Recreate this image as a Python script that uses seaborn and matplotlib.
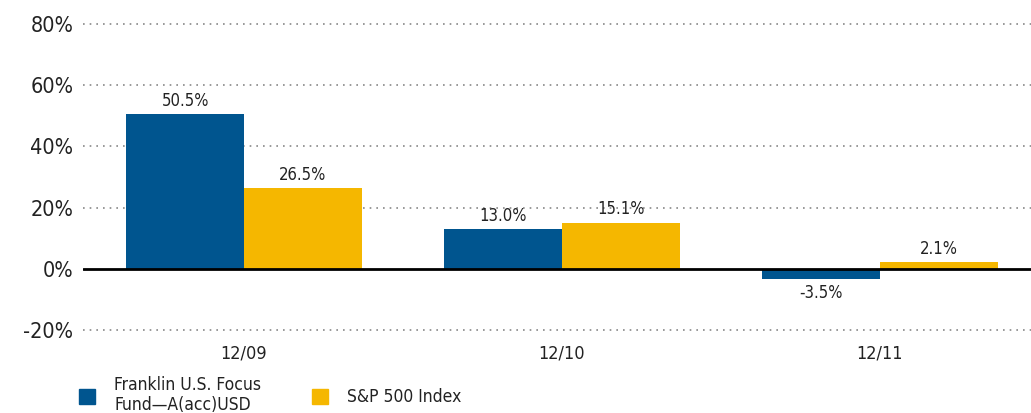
import pandas as pd
import numpy as np
import seaborn as sns
import matplotlib.pyplot as plt
from matplotlib.patches import Patch

periods = ['12/09', '12/10', '12/11']
fund_name = 'Franklin U.S. Focus\nFund\u2014A(acc)USD'
index_name = 'S&P 500 Index'
fund_returns = [50.5, 13.0, -3.5]
index_returns = [26.5, 15.1, 2.1]
y_ticks = [-20, 0, 20, 40, 60, 80]

blue = '#00558F'
gold = '#F5B700'

df = pd.DataFrame({
    'Period': periods * 2,
    'Series': [fund_name] * 3 + [index_name] * 3,
    'Return': fund_returns + index_returns,
})

sns.set_style('white')
plt.rcParams['font.family'] = ['DejaVu Sans']
plt.rcParams['font.stretch'] = 'condensed'

fig = plt.figure(figsize=(10.31, 4.13), dpi=100)
ax = fig.add_axes([83 / 1031, 80 / 413, 948 / 1031, 312 / 413])

sns.barplot(data=df, x='Period', y='Return', hue='Series',
            palette=[blue, gold], width=0.74, gap=0, saturation=1,
            ax=ax, legend=False, linewidth=0)

for c in ax.containers:
    ax.bar_label(c, fmt='%.1f%%', padding=3, fontsize=12, color='#222222')

ax.set_ylim(-21, 81)
ax.set_xlim(-0.506, 2.475)
ax.set_yticks(y_ticks)
ax.set_yticklabels([f'{v}%' for v in y_ticks])
ax.tick_params(axis='y', length=0, pad=7, labelsize=15.5, labelcolor='#222222')
ax.tick_params(axis='x', length=0, pad=8, labelsize=13, labelcolor='#222222')
ax.set_xlabel('')
ax.set_ylabel('')

for v in y_ticks:
    if v != 0:
        ax.axhline(v, color='#888888', lw=1.2, ls=(0, (1, 3)), zorder=0)
ax.axhline(0, color='black', lw=2, zorder=3)

for s in ax.spines.values():
    s.set_visible(False)

handles = [Patch(color=blue, label=fund_name), Patch(color=gold, label=index_name)]
fig.legend(handles=handles, loc='upper left', bbox_to_anchor=(63 / 1031, 1 - 360 / 413),
           ncol=2, frameon=False, fontsize=12.5, handlelength=0.95, handleheight=0.95,
           handletextpad=1.1, columnspacing=2.9, labelspacing=0.15, labelcolor='#222222')

plt.savefig('out.png', dpi=100)
